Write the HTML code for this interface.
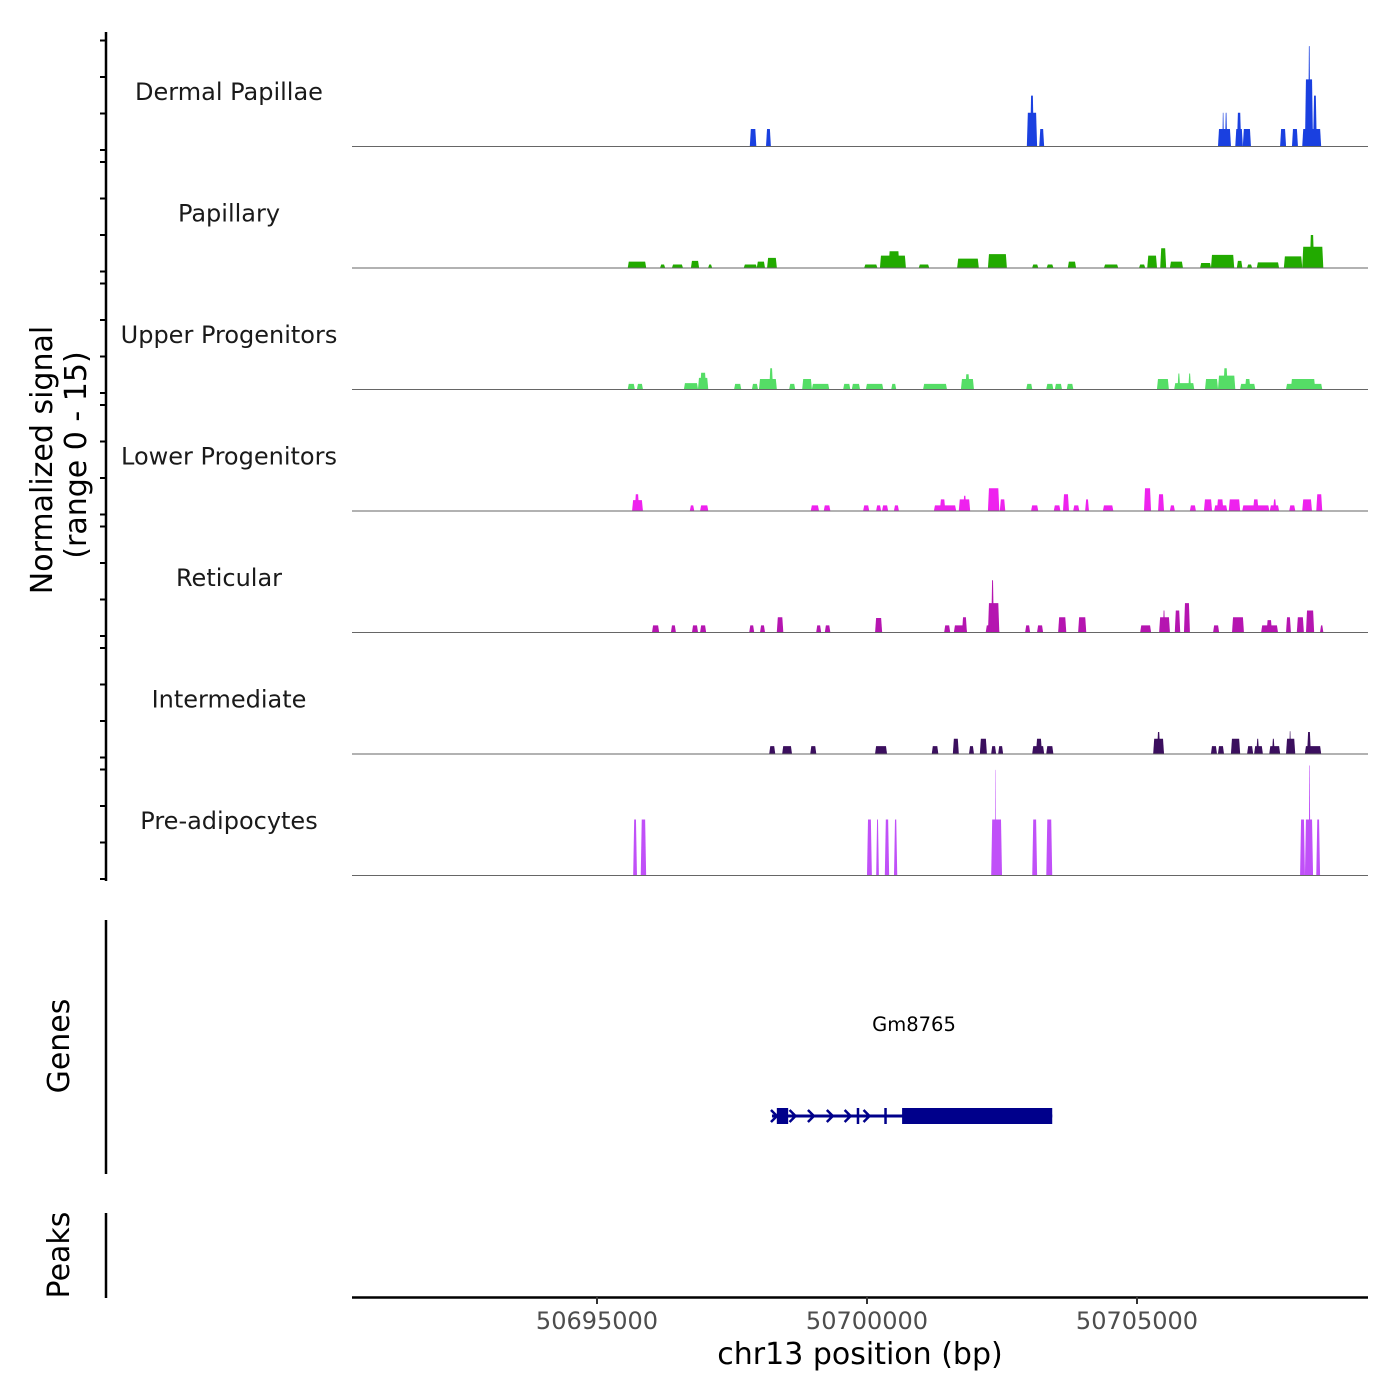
<!DOCTYPE html>
<html><head><meta charset="utf-8"><style>
html,body{margin:0;padding:0;background:#fff;}
svg{display:block;font-family:"DejaVu Sans","Liberation Sans",sans-serif;}
</style></head><body>
<svg id="chart" width="1400" height="1400" viewBox="0 0 1400 1400" xmlns="http://www.w3.org/2000/svg">
<rect width="1400" height="1400" fill="#fff"/>
<g id="tracks"></g>
<g id="leftaxis"></g>
<text transform="translate(52,460) rotate(-90)" text-anchor="middle" font-size="30" fill="#000">Normalized signal</text>
<text transform="translate(86,455) rotate(-90)" text-anchor="middle" font-size="30" fill="#000">(range 0 - 15)</text>
<line x1="106" y1="920" x2="106" y2="1174" stroke="#000" stroke-width="2.5"/>
<text transform="translate(69,1046) rotate(-90)" text-anchor="middle" font-size="30" fill="#000">Genes</text>
<line x1="106" y1="1213" x2="106" y2="1298" stroke="#000" stroke-width="2.5"/>
<text transform="translate(69,1255) rotate(-90)" text-anchor="middle" font-size="30" fill="#000">Peaks</text>
<g id="genes"></g>
<g id="xaxis"></g>
<text x="860" y="1364" text-anchor="middle" font-size="30" fill="#000">chr13 position (bp)</text>
</svg>
<script>
const regionStart = 50690000;
const xTicks = [50695000, 50700000, 50705000];
const trackNames = ["Dermal Papillae","Papillary","Upper Progenitors","Lower Progenitors","Reticular","Intermediate","Pre-adipocytes"];
const trackColors = ["#1a40e0","#22aa00","#55dd66","#ee22ee","#b515b0","#3b0f5e","#c050f8"];
// peaks: [startOffsetBp, endOffsetBp, value] with offsets from regionStart
const dermalPapillae = [[7830,7950,2.3],[8130,8220,2.3],[12960,13150,4.5],[13020,13090,6.8],[13190,13280,2.3],[16500,16740,2.3],[16580,16610,4.5],[16630,16670,4.5],[16820,16960,2.3],[16850,16930,4.5],[16960,17110,2.3],[17650,17760,2.3],[17870,17980,2.3],[18060,18410,2.3],[18110,18260,9],[18170,18210,13.5],[18260,18330,6.8]];
const papillary = [[5570,5910,0.8],[6170,6260,0.4],[6390,6590,0.4],[6740,6890,0.9],[7060,7130,0.4],[7720,7960,0.4],[7960,8110,0.8],[8150,8330,1.3],[9950,10190,0.4],[10240,10720,1.6],[10400,10600,2.2],[10960,11150,0.4],[11670,12070,1.2],[12240,12590,1.8],[13060,13170,0.4],[13330,13450,0.4],[13720,13870,0.8],[14390,14650,0.4],[15040,15150,0.4],[15190,15370,1.6],[15430,15540,2.6],[15610,15850,0.8],[16170,16370,0.6],[16370,16800,1.7],[16850,16950,0.9],[17040,17130,0.4],[17220,17630,0.7],[17720,18060,1.5],[18060,18450,2.8],[18200,18280,4.4]];
const upperProgenitors = [[5570,5700,0.7],[5740,5850,0.7],[6610,6870,0.8],[6870,7060,1.5],[6910,7020,2.2],[7540,7670,0.7],[7870,7980,0.7],[8000,8330,1.35],[8190,8260,2.8],[8560,8670,0.7],[8800,8980,1.35],[8980,9300,0.7],[9560,9690,0.7],[9720,9870,0.7],[9980,10300,0.7],[10450,10540,0.7],[11040,11480,0.7],[11740,11980,1.35],[11820,11900,2],[12950,13060,0.7],[13320,13450,0.7],[13480,13610,0.7],[13700,13820,0.7],[15370,15590,1.35],[15690,16060,0.8],[15750,15800,2.1],[15950,16000,2.1],[16260,16500,1.35],[16500,16820,1.8],[16600,16680,2.8],[16910,17190,0.7],[17000,17100,1.35],[17760,18430,0.7],[17850,18300,1.35]];
const lowerProgenitors = [[5650,5850,1.4],[5700,5780,2.2],[6720,6800,0.7],[6910,7060,0.7],[8960,9110,0.7],[9200,9320,0.7],[9930,10040,0.7],[10170,10260,0.7],[10280,10390,0.7],[10500,10590,0.7],[11240,11650,0.7],[11350,11450,1.5],[11700,11910,1.5],[11780,11840,2],[12240,12450,3],[12460,12560,1.5],[13040,13170,0.7],[13460,13580,0.7],[13630,13740,2.2],[13820,13930,0.7],[14040,14110,1.5],[14370,14560,0.7],[15130,15260,3],[15390,15500,2.2],[15610,15700,0.7],[15980,16090,0.7],[16240,16390,1.5],[16430,16670,0.7],[16480,16600,1.5],[16700,16910,1.5],[16950,17450,0.7],[17150,17250,1.5],[17460,17630,0.7],[17520,17580,1.5],[17820,17930,0.7],[18060,18240,1.5],[18320,18430,2.2]];
const reticular = [[6020,6150,0.9],[6370,6460,0.9],[6760,6870,0.9],[6910,7020,0.9],[7820,7910,0.9],[8020,8110,0.9],[8330,8450,2],[9060,9150,0.9],[9220,9320,0.9],[10150,10280,1.9],[11430,11540,0.9],[11610,11850,0.9],[11760,11850,2],[12200,12450,0.9],[12240,12450,3.9],[12300,12350,7],[12930,13020,0.9],[13150,13260,0.9],[13540,13690,2],[13910,14060,2],[15060,15260,0.9],[15410,15610,2],[15480,15520,2.9],[15700,15800,2.9],[15870,15980,3.9],[16410,16520,0.9],[16760,16980,2],[17300,17610,0.9],[17400,17500,1.6],[17760,17850,2],[17960,18090,2],[18130,18280,2.9],[18390,18450,0.9]];
const intermediate = [[8190,8300,1],[8430,8610,1],[8950,9060,1],[10150,10370,1],[11200,11320,1],[11590,11700,2],[11890,11980,1],[12090,12220,2],[12300,12390,1],[12430,12520,1],[13060,13280,1],[13130,13240,2],[13320,13450,1],[15300,15500,2],[15370,15430,2.9],[16370,16480,1],[16500,16610,1],[16740,16910,2],[17040,17150,1],[17170,17330,1],[17210,17260,2],[17450,17650,1],[17500,17550,2],[17760,17930,2],[17820,17850,3],[18110,18410,1],[18150,18220,2.9]];
const preAdipocytes = [[5670,5740,7.5],[5810,5910,7.5],[10000,10090,7.5],[10170,10220,7.5],[10330,10410,7.5],[10500,10560,7.5],[12300,12500,7.5],[12370,12390,14.2],[13060,13150,7.5],[13320,13430,7.5],[18020,18110,7.5],[18110,18260,7.5],[18180,18210,14.8],[18320,18390,7.5]];
const geneName = "Gm8765";
const geneSpan = [8240, 13430];
const geneExons = [[8330,8540],[9810,9840],[10320,10350],[10650,13430]];
const geneArrows = [8640,8980,9330,9660,10010];

const trackData = [dermalPapillae,papillary,upperProgenitors,lowerProgenitors,reticular,intermediate,preAdipocytes];
const NS="http://www.w3.org/2000/svg";
const X0=352, X1=1368, bp0=50695000, px0=597, pxPerBp=0.054;
function xScale(bp){return px0+(bp-bp0)*pxPerBp;}
const yMax=15, pxPerUnit=111/15;
function baseY(i){return 146+i*121.5;}
function yScale(i,v){return baseY(i)-Math.min(v,yMax)*pxPerUnit;}
function mk(tag,attrs,parent){const e=document.createElementNS(NS,tag);for(const k in attrs)e.setAttribute(k,attrs[k]);parent.appendChild(e);return e;}

const tracksG=document.getElementById('tracks');
trackData.forEach((arr,i)=>{
  const g=mk('g',{},tracksG);
  
  
  const lab=mk('text',{x:229,y:baseY(i)-46,'text-anchor':'middle','font-size':24,fill:'#1a1a1a'},g);
  lab.textContent=trackNames[i];
  
  
  arr.forEach(p=>{
    const xa=xScale(regionStart+p[0]), xb=xScale(regionStart+p[1]);
    const w=xb-xa, ins=Math.min(1,w/3), yb=baseY(i), yt=yScale(i,p[2]);
    const poly=mk('polygon',{points:`${xa},${yb} ${xa+ins},${yt} ${xb-ins},${yt} ${xb},${yb}`,fill:trackColors[i]},g);
    
    
  });
  const bl=mk('line',{x1:X0,x2:X1,y1:baseY(i)+0.5,y2:baseY(i)+0.5,stroke:'#666','stroke-width':1},g);
  
  
});

const la=document.getElementById('leftaxis');
mk('line',{x1:106,x2:106,y1:32,y2:881,stroke:'#000','stroke-width':2.5},la);
for(let i=0;i<7;i++){
  for(let n=0;n<4;n++){
    const y=baseY(i)+4-n*36.5;
    const t=mk('line',{x1:100,x2:106,y1:y,y2:y,stroke:'#000','stroke-width':2},la);
    
    
  }
}

const gg=document.getElementById('genes');
const gy=1116, col='#00008b';
const gl=mk('line',{x1:xScale(regionStart+geneSpan[0]),x2:xScale(regionStart+geneSpan[1]),y1:gy,y2:gy,stroke:col,'stroke-width':3},gg);


geneExons.forEach(e=>{
  const xa=xScale(regionStart+e[0]), xb=xScale(regionStart+e[1]);
  const w=Math.max(xb-xa,2.5);
  const h=16;
  const r=mk('rect',{x:xa,y:gy-h/2,width:w,height:h,fill:col},gg);
  
  
});
geneArrows.forEach(a=>{
  const x=xScale(regionStart+a);
  const p=mk('polyline',{points:`${x-4},${gy-6} ${x+2},${gy} ${x-4},${gy+6}`,fill:'none',stroke:col,'stroke-width':2.5},gg);
  
  
});
{
  const x=xScale(regionStart+geneSpan[0]);
  const p=mk('polyline',{points:`${x-1},${gy-6} ${x+5},${gy} ${x-1},${gy+6}`,fill:'none',stroke:col,'stroke-width':2.5},gg);
  
  
}
const gt=mk('text',{x:914,y:1031,'text-anchor':'middle','font-size':19.5,fill:'#000'},gg);
gt.textContent=geneName;



const xa=document.getElementById('xaxis');
mk('line',{x1:X0,x2:X1,y1:1297.5,y2:1297.5,stroke:'#000','stroke-width':2.5},xa);
xTicks.forEach(t=>{
  const x=xScale(t);
  const tk=mk('line',{x1:x,x2:x,y1:1297,y2:1304,stroke:'#333','stroke-width':2},xa);
  
  
  const tl=mk('text',{x:x,y:1329,'text-anchor':'middle','font-size':24,fill:'#4d4d4d'},xa);
  tl.textContent=String(t);
  
  
});
</script>
</body></html>
